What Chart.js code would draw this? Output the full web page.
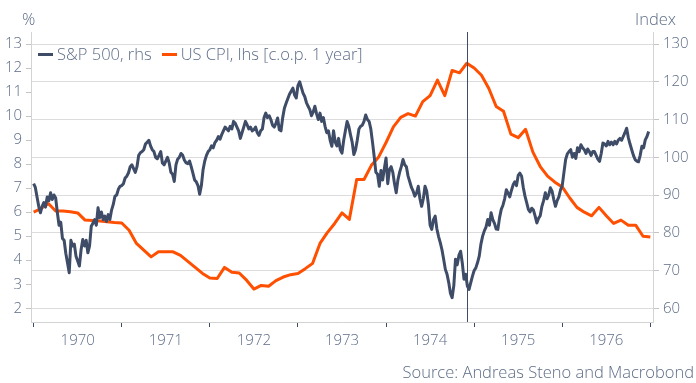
<!DOCTYPE html>
<html>
<head>
<meta charset="utf-8">
<script src="https://cdn.jsdelivr.net/npm/chart.js@4.4.1/dist/chart.umd.min.js"></script>
<style>
  body { margin: 0; background: #fff; }
  #wrap { position: relative; width: 696px; height: 383px; font-family: 'Open Sans', sans-serif; font-weight: 300; color: #5d6d87; }
  canvas { position: absolute; left: 0; top: 0; }
  .lbl { position: absolute; font-size: 16.5px; line-height: 1; white-space: nowrap; }
  #legend { position: absolute; left: 38px; top: 45px; display: flex; align-items: center; font-size: 16.5px; line-height: 18px; white-space: nowrap; }
  .item { display: flex; align-items: center; margin-right: 10px; }
  .sw { width: 15px; height: 3px; margin-right: 4px; }
</style>
</head>
<body>
<div id="wrap">
  <canvas id="c" width="696" height="383"></canvas>
  <div class="lbl" id="lhsTitle" style="left:22px; top:11px;">%</div>
  <div class="lbl" id="rhsTitle" style="right:20px; top:11px;">Index</div>
  <div id="legend"></div>
  <div class="lbl" id="source" style="right:2px; top:364px;">Source: Andreas Steno and Macrobond</div>
</div>
<script>
// ---- data ----
const spxStart = 1970;        // weekly observations from the start of 1970
const spxStepWeeks = 52;      // 52 observations per year
const spxValues = [
  // 1970
  93.0,92.0,89.5,87.0,85.3,87.0,88.0,86.8,89.5,88.5,
  90.6,88.8,90.0,89.2,85.3,82.0,82.8,78.5,78.0,74.5,
  72.0,69.4,78.0,76.5,77.0,73.8,72.5,71.2,75.5,78.2,
  76.5,78.0,74.7,76.5,81.7,82.5,83.5,82.0,86.6,84.0,
  85.5,83.5,84.4,83.0,84.8,83.5,86.0,87.5,89.7,90.0,
  91.5,92.3,
  // 1971
  92.5,93.0,94.5,95.0,95.9,97.5,98.0,97.0,96.0,97.5,
  100.5,101.2,101.5,102.0,103.5,104.0,104.5,103.0,102.0,101.5,
  100.0,99.6,100.5,101.5,98.5,98.0,99.0,100.0,98.5,96.0,
  95.5,93.6,98.0,99.5,100.0,101.0,100.5,99.2,98.5,98.3,
  99.0,97.5,95.8,94.0,93.5,92.5,90.2,92.5,96.7,99.0,
  100.5,101.5,
  // 1972
  102.0,103.0,102.5,103.9,104.5,105.5,104.8,106.0,107.0,108.0,
  107.5,107.0,108.2,107.5,109.5,109.0,108.0,107.0,105.0,106.5,
  108.0,109.5,108.6,107.5,108.0,107.0,107.3,108.0,106.5,105.8,
  107.0,107.5,110.5,111.7,110.5,111.0,110.0,108.5,108.0,109.0,
  110.4,107.3,107.0,110.5,113.0,114.3,115.5,116.7,117.5,118.3,
  116.5,115.7,
  // 1973
  119.0,120.0,118.5,117.0,116.1,114.5,113.5,112.6,111.0,112.0,
  113.5,111.5,110.0,111.7,109.5,110.5,108.2,106.5,107.0,104.5,
  102.9,107.0,104.0,103.0,105.0,102.0,101.1,104.5,107.0,109.5,
  108.2,106.0,104.0,100.7,102.0,104.5,107.5,108.2,108.5,109.5,
  111.2,110.0,109.5,107.5,104.0,100.2,96.0,95.5,92.3,96.5,
  94.0,97.0,
  // 1974
  99.8,93.0,96.7,97.5,96.0,93.0,90.6,94.0,96.0,97.5,
  99.4,98.0,97.5,95.0,93.5,92.0,91.0,89.7,90.5,92.3,
  89.0,87.0,89.0,92.3,91.0,87.5,82.0,80.9,83.5,84.4,
  81.0,79.0,77.4,75.5,73.0,70.3,69.0,66.8,64.0,62.8,
  66.0,73.0,71.5,74.0,75.1,72.0,67.7,69.0,65.9,65.0,
  66.8,68.5,
  // 1975
  70.0,70.7,72.1,73.8,77.0,79.1,80.5,81.5,83.5,82.0,
  85.3,83.5,82.5,81.0,80.9,84.0,86.2,87.3,89.0,91.4,
  90.5,89.5,91.2,92.7,93.5,92.5,95.2,95.8,95.0,92.0,
  89.7,88.0,86.2,85.5,86.5,86.0,84.4,82.6,83.8,84.5,
  87.0,88.5,90.6,89.0,90.0,91.9,91.0,88.8,87.0,88.5,
  89.5,91.4,
  // 1976
  92.5,96.0,99.4,100.9,101.5,102.0,100.0,101.0,99.7,102.5,
  101.5,103.3,102.5,102.0,101.0,102.2,101.5,100.5,101.5,101.5,
  100.5,99.5,98.9,101.0,103.8,103.5,103.0,104.2,103.3,104.0,
  103.3,104.2,103.5,104.5,105.0,104.5,105.5,106.5,107.7,105.2,
  103.5,102.0,100.5,99.4,99.0,98.8,100.5,102.9,102.5,104.6,
  105.5,106.8
];

const cpiStart = 1970;        // monthly, month-end dating (first = Dec 1969)
const cpiStepMonths = 12;
const cpiValues = [
  6.0, 6.15, 6.36, 6.05, 6.05, 6.02, 5.97, 5.67, 5.65, 5.63, 5.6, 5.57, 5.55,
  5.25, 4.7, 4.42, 4.14, 4.35, 4.35, 4.35, 4.2, 3.95, 3.7, 3.45, 3.26,
  3.24, 3.7, 3.5, 3.47, 3.17, 2.8, 2.95, 2.92, 3.15, 3.3, 3.4, 3.45,
  3.65, 3.87, 4.7, 5.15, 5.53, 5.97, 5.7, 7.36, 7.36, 7.95, 8.3, 8.9,
  9.55, 9.95, 10.1, 10.0, 10.6, 10.85, 11.5, 10.85, 11.9, 11.8, 12.2, 12.0,
  11.7, 11.15, 10.4, 10.2, 9.25, 9.1, 9.45, 8.5, 7.9, 7.5, 7.25, 7.05,
  6.6, 6.2, 6.0, 5.85, 6.2, 5.85, 5.53, 5.67, 5.46, 5.46, 5.0, 4.97
];

const yearTicks = [1970, 1971, 1972, 1973, 1974, 1975, 1976, 1977];
const yearLabels = [1970, 1971, 1972, 1973, 1974, 1975, 1976];
const leftTicks = [2, 3, 4, 5, 6, 7, 8, 9, 10, 11, 12, 13];
const rightTicks = [60, 70, 80, 90, 100, 110, 120, 130];
const markerDate = 1974 + 11 / 12;   // end of November 1974

const seriesLabels = ['S&P 500, rhs', 'US CPI, lhs [c.o.p. 1 year]'];

// ---- styles ----
const NAVY = '#3e4c67';
const ORANGE = '#ff4f00';
const TXT = '#5d6d87';
const AXIS = '#d3d3d3';
const FONT = { family: "'Open Sans', sans-serif", size: 15, weight: '300' };

const spxData = spxValues.map((v, i) => ({ x: spxStart + i / spxStepWeeks, y: v }));
const cpiData = cpiValues.map((v, i) => ({ x: cpiStart + i / cpiStepMonths, y: v }));

const markerPlugin = {
  id: 'marker',
  afterDatasetsDraw(chart) {
    const { ctx, chartArea, scales } = chart;
    const x = Math.round(scales.x.getPixelForValue(markerDate)) + 0.5;
    ctx.save();
    ctx.strokeStyle = NAVY;
    ctx.lineWidth = 1;
    ctx.beginPath();
    ctx.moveTo(x, chartArea.top);
    ctx.lineTo(x, chartArea.bottom);
    ctx.stroke();
    ctx.restore();
  }
};

const chart = new Chart(document.getElementById('c'), {
  type: 'line',
  data: {
    datasets: [
      { label: seriesLabels[0], data: spxData, yAxisID: 'y1', borderColor: NAVY, borderWidth: 3,
        pointRadius: 0, tension: 0, borderJoinStyle: 'round', order: 1 },
      { label: seriesLabels[1], data: cpiData, yAxisID: 'y', borderColor: ORANGE, borderWidth: 3,
        pointRadius: 0, tension: 0, borderJoinStyle: 'round', order: 2 }
    ]
  },
  options: {
    responsive: false,
    animation: false,
    devicePixelRatio: 1,
    layout: { padding: { top: 32, left: 0, right: 0, bottom: 0 } },
    plugins: { legend: { display: false }, tooltip: { enabled: false } },
    scales: {
      x: {
        type: 'linear',
        min: 1969.97,
        max: 1977.03,
        afterBuildTicks: (ax) => {
          const t = [];
          yearTicks.forEach(y => t.push({ value: y }));
          yearLabels.forEach(y => t.push({ value: y + 0.5 }));
          t.sort((a, b) => a.value - b.value);
          ax.ticks = t;
        },
        afterFit: (s) => { s.height = 61; },
        ticks: {
          autoSkip: false, maxRotation: 0, minRotation: 0, padding: 5, color: TXT, font: FONT,
          callback: (v) => (Math.abs(v % 1 - 0.5) < 1e-6 ? String(Math.floor(v)) : '')
        },
        grid: {
          drawOnChartArea: false, tickLength: 5, lineWidth: 1,
          tickColor: (ctx) => (ctx.tick && Math.abs(ctx.tick.value % 1) < 1e-6 ? NAVY : 'rgba(0,0,0,0)')
        },
        border: { color: AXIS }
      },
      y: {
        position: 'left',
        min: 1.429,
        max: 13.5,
        afterBuildTicks: (ax) => { ax.ticks = leftTicks.map(v => ({ value: v })); },
        afterFit: (s) => { s.width = 31; },
        ticks: { color: TXT, font: FONT, padding: 4 },
        grid: { drawOnChartArea: false, tickLength: 5, tickColor: '#c4c4c4' },
        border: { color: AXIS }
      },
      y1: {
        position: 'right',
        min: 56.36,
        max: 133.18,
        afterBuildTicks: (ax) => { ax.ticks = rightTicks.map(v => ({ value: v })); },
        afterFit: (s) => { s.width = 43; },
        ticks: { color: TXT, font: FONT, padding: 4 },
        grid: { drawOnChartArea: true, color: '#dcdcdc', lineWidth: 1, tickLength: 6, tickColor: '#c4c4c4' },
        border: { color: AXIS }
      }
    }
  },
  plugins: [markerPlugin]
});

// legend built from the datasets
const legend = document.getElementById('legend');
chart.data.datasets.forEach(ds => {
  const item = document.createElement('div');
  item.className = 'item';
  const sw = document.createElement('span');
  sw.className = 'sw';
  sw.style.background = ds.borderColor;
  const tx = document.createElement('span');
  tx.textContent = ds.label;
  item.appendChild(sw);
  item.appendChild(tx);
  legend.appendChild(item);
});
</script>
</body>
</html>
